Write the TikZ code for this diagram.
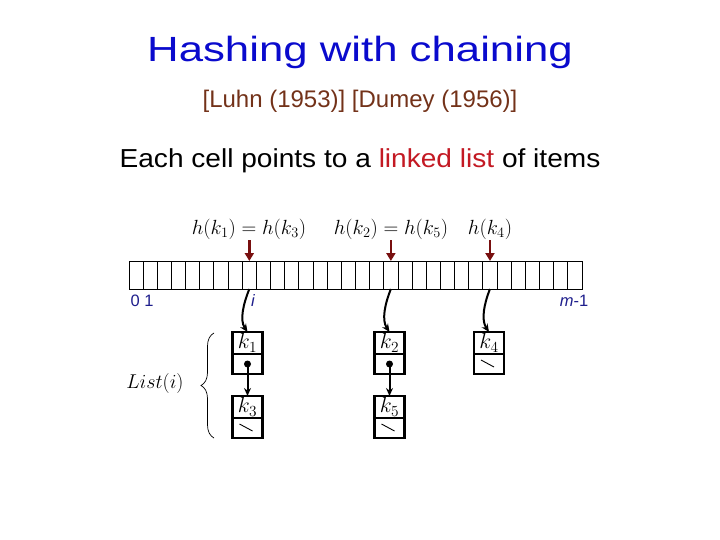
\RequirePackage{fix-cm}
\documentclass[tikz,border=0pt]{standalone}
\usepackage[no-math]{fontspec}
\newfontfamily\arialf{Liberation Sans}
\usetikzlibrary{arrows.meta,decorations.pathreplacing}
\definecolor{titleblue}{RGB}{10,10,205}
\definecolor{navy}{RGB}{30,30,140}
\definecolor{linkred}{RGB}{195,25,35}
\definecolor{subbrown}{RGB}{115,50,25}
\definecolor{darkred}{RGB}{120,15,15}
\begin{document}
\begin{tikzpicture}[x=1pt,y=-1pt,
  cell/.style={draw,line width=0.9pt,minimum width=14.156pt,minimum height=28pt,inner sep=0pt,outer sep=0pt},
  keybox/.style={draw,line width=2.2pt,minimum width=30pt,minimum height=22pt,inner sep=0pt,outer sep=0pt,font=\fontsize{22}{26}\selectfont},
  ptrbox/.style={draw,line width=2.2pt,minimum width=30pt,minimum height=20pt,inner sep=0pt,outer sep=0pt},
  hashlabel/.style={font=\fontsize{20.5}{24}\selectfont,inner sep=0pt,anchor=base},
  hasharrow/.style={darkred,line width=2.6pt,-{Triangle[length=8pt,width=9pt]}},
  idxlabel/.style={font=\arialf\fontsize{16.5}{19}\selectfont,text=navy,inner sep=0pt,anchor=base},
  listarrow/.style={line width=2pt,-{Stealth[length=8pt,width=7pt]}},
  nullmark/.style={line width=0.9pt},
  ptrdot/.style={circle,fill,inner sep=0pt,minimum size=7pt}
]
\useasboundingbox (0,0) rectangle (720,540);

% titles
\node[font=\arialf\fontsize{35}{42}\selectfont,text=titleblue,anchor=base,inner sep=0pt] (title) at (360,62) {\scalebox{1.25}[1]{Hashing with chaining}};
\node[font=\arialf\fontsize{24}{28}\selectfont,text=subbrown,anchor=base,inner sep=0pt] (sub) at (360,108) {[Luhn (1953)] [Dumey (1956)]};
\node[font=\arialf\fontsize{26}{30}\selectfont,anchor=base,inner sep=0pt] (each) at (360,168) {\scalebox{1.08}[1]{Each cell points to a \textcolor{linkred}{linked list} of items}};

% table cells
\foreach \i in {0,...,31}
  \node[cell] (c\i) at ({129+(\i+0.5)*14.156},275) {};

% hash labels and arrows
\node[hashlabel] (h13) at (249,234) {$h(k_1)=h(k_3)$};
\node[hashlabel] (h25) at (391,234) {$h(k_2)=h(k_5)$};
\node[hashlabel] (h4) at (490,234) {$h(k_4)$};
\path (c8.north) +(0,-21) coordinate (a8);
\path (c18.north) +(0,-21) coordinate (a18);
\path (c25.north) +(0,-21) coordinate (a25);
\draw[hasharrow] (a8) -- (c8.north);
\draw[hasharrow] (a18) -- (c18.north);
\draw[hasharrow] (a25) -- (c25.north);

% index labels
\node[idxlabel] (l01) at (142,306) {0 1};
\node[idxlabel] (li) at (253,306) {\itshape i};
\node[idxlabel] (lm) at (574,306) {\itshape m\upshape -1};

% list nodes
\node[keybox] (k1) at (247.5,343) {$k_1$};
\node[ptrbox] (k1p) at (247.5,364) {};
\node[keybox] (k3) at (247.5,407) {$k_3$};
\node[ptrbox] (k3p) at (247.5,428) {};
\node[keybox] (k2) at (389.5,343) {$k_2$};
\node[ptrbox] (k2p) at (389.5,364) {};
\node[keybox] (k5) at (389.5,407) {$k_5$};
\node[ptrbox] (k5p) at (389.5,428) {};
\node[keybox] (k4) at (489,343) {$k_4$};
\node[ptrbox] (k4p) at (489,364) {};

% pointers from table to lists
\draw[listarrow] (c8.south) .. controls +(-6,15) and +(-8,-12) .. (k1.north);
\draw[listarrow] (c18.south) .. controls +(-6,15) and +(-8,-12) .. (k2.north);
\draw[listarrow] (c25.south) .. controls +(-6,15) and +(-8,-12) .. (k4.north);

% next pointers
\node[ptrdot] (d1) at (k1p.center) {};
\node[ptrdot] (d2) at (k2p.center) {};
\draw[listarrow] (d1.center) -- (k3.north);
\draw[listarrow] (d2.center) -- (k5.north);

% null marks
\draw[nullmark] ([shift={(-8,-4)}]k3p.center) -- ([shift={(5,3)}]k3p.center);
\draw[nullmark] ([shift={(-8,-4)}]k5p.center) -- ([shift={(5,3)}]k5p.center);
\draw[nullmark] ([shift={(-8,-4)}]k4p.center) -- ([shift={(5,3)}]k4p.center);

% brace and label
\coordinate (bb) at (214,438);
\coordinate (bt) at (214,333);
\draw[line width=0.7pt,decorate,decoration={brace,amplitude=13pt}] (bb) -- (bt);
\node[font=\fontsize{20}{24}\selectfont,inner sep=0pt] (list) at (155,383) {$List(i)$};
\end{tikzpicture}
\end{document}
